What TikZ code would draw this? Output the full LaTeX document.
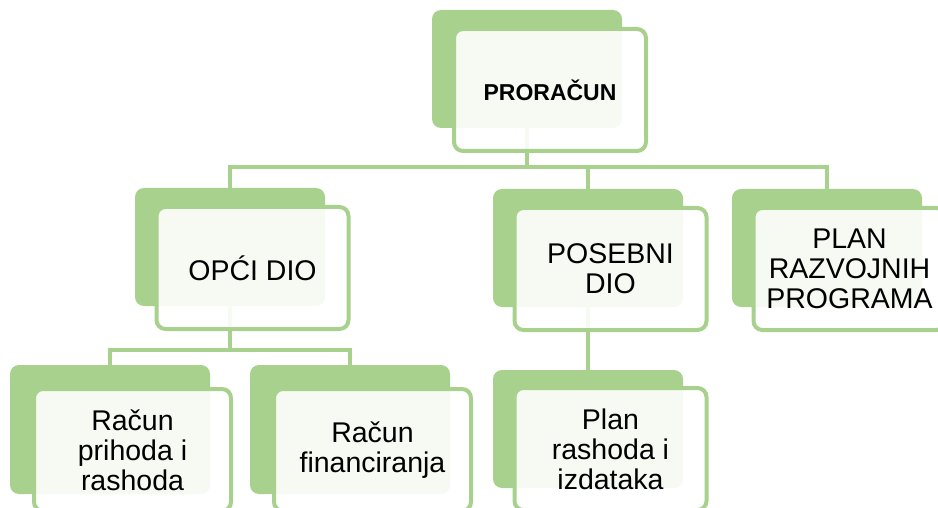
\documentclass[tikz,border=0pt]{standalone}
\usepackage{fontspec}
\setmainfont{Liberation Sans}
\usetikzlibrary{backgrounds}
\definecolor{gr}{HTML}{A9D18E}
\begin{document}
\begin{tikzpicture}[x=1pt,y=-1pt,
  back/.style={fill=gr, rounded corners=9pt, minimum width=190pt, minimum height=118pt, anchor=north west, inner sep=0pt, outer sep=0pt},
  bigback/.style={back, minimum width=200pt, minimum height=129pt},
  front/.style={draw=gr, line width=4pt, fill=white, fill opacity=0.9, text opacity=1, draw opacity=1, rounded corners=9pt, minimum width=192pt, minimum height=122pt, anchor=north west, inner sep=0pt, outer sep=0pt, align=center, font=\fontsize{28.5}{30}\selectfont},
  bigfront/.style={front, minimum width=197pt},
  conn/.style={draw=gr, line width=4pt}]
\useasboundingbox (0,0) rectangle (938,508);
% level 1
\node[back] (bTop) at (432,10) {};
\node[front, font=\bfseries\fontsize{23}{26}\selectfont] (top) at (454,29) {PRORAČUN};
% level 2
\node[back] (bOpci) at (135,188) {};
\node[front] (opci) at (156.5,207) {OPĆI DIO};
\node[back] (bPos) at (493,189) {};
\node[front] (pos) at (514.5,208) {POSEBNI\\DIO};
\node[back] (bPlan) at (732,189) {};
\node[front] (plan) at (753.5,208) {PLAN\\RAZVOJNIH\\PROGRAMA};
% level 3
\node[bigback] (bRph) at (10,365) {};
\node[bigfront] (rph) at (34,389) {Račun\\prihoda i\\rashoda};
\node[bigback] (bRf) at (250,365) {};
\node[bigfront] (rf) at (274,389) {Račun\\financiranja};
\node[back] (bPlr) at (493,370) {};
\node[front] (plr) at (514.5,388) {Plan\\rashoda i\\izdataka};
% connectors
\coordinate (lvl1) at (0,167);
\coordinate (lvl2) at (0,350);
\begin{scope}[on background layer]
\draw[conn] (bTop.south) -- (bTop.south |- lvl1);
\draw[conn] (bOpci.north) -- (bOpci.north |- lvl1) -- (bPlan.north |- lvl1) -- (bPlan.north);
\draw[conn] (bPos.north) -- (bPos.north |- lvl1);
\draw[conn] (bOpci.south) -- (bOpci.south |- lvl2);
\draw[conn] (bRph.north) -- (bRph.north |- lvl2) -- (bRf.north |- lvl2) -- (bRf.north);
\draw[conn] (bPos.south) -- (bPlr.north);
\end{scope}
\end{tikzpicture}
\end{document}
